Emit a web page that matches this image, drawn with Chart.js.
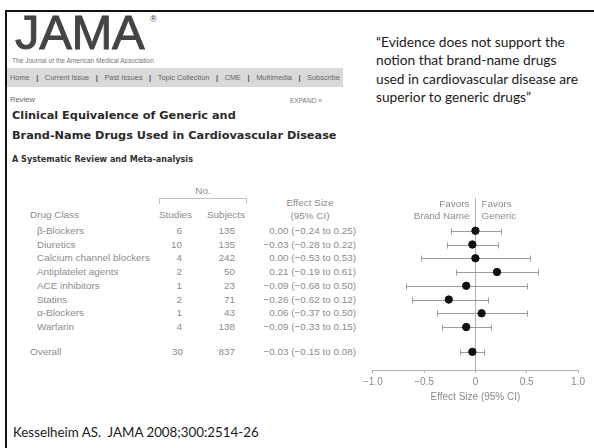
<!DOCTYPE html>
<html><head><meta charset="utf-8">
<script src="https://cdn.jsdelivr.net/npm/chart.js@4.4.1/dist/chart.umd.min.js"></script>
<style>
html,body{margin:0;padding:0;background:#fff;}
body{width:594px;height:448px;position:relative;overflow:hidden;}
.t{position:absolute;white-space:pre;}
#plot{position:absolute;left:360px;top:180px;}
#nav{position:absolute;left:7px;top:68px;width:336px;height:19px;background:#d9d9d9;display:flex;justify-content:space-between;align-items:center;padding:0 3px;box-sizing:border-box;font:7.4px "Liberation Sans",Arial,sans-serif;color:#666;}
#nav b{color:#555;font-weight:bold;}
</style></head><body>
<div style="position:absolute;left:5px;top:10px;width:589px;height:2px;background:#111"></div>
<div style="position:absolute;left:5px;top:10px;width:2px;height:438px;background:#111"></div>
<div id="nav"><span>Home</span><b>|</b><span>Current Issue</span><b>|</b><span>Past Issues</span><b>|</b><span>Topic Collection</span><b>|</b><span>CME</span><b>|</b><span>Multimedia</span><b>|</b><span>Subscribe</span></div>
<canvas id="plot" width="234" height="230"></canvas>
<script>
// ---- data ----
const drugClasses = ['β-Blockers','Diuretics','Calcium channel blockers','Antiplatelet agents','ACE inhibitors','Statins','α-Blockers','Warfarin'];
const studies = [6, 10, 4, 2, 1, 2, 1, 4];
const subjects = [135, 135, 242, 50, 23, 71, 43, 138];
const effect = [0.00, -0.03, 0.00, 0.21, -0.09, -0.26, 0.06, -0.09];
const ciLow = [-0.24, -0.28, -0.53, -0.19, -0.68, -0.62, -0.37, -0.33];
const ciHigh = [0.25, 0.22, 0.53, 0.61, 0.50, 0.12, 0.50, 0.15];
const overallLabel = 'Overall';
const overallStudies = 30;
const overallSubjects = 837;
const overallEffect = -0.03;
const overallLow = -0.15;
const overallHigh = 0.08;
const xTicks = [-1, -0.5, 0, 0.5, 1];
const xTickLabels = ['−1.0', '−0.5', '0', '0.5', '1.0'];
const quoteLines = ['“Evidence does not support the', 'notion that brand-name drugs', 'used in cardiovascular disease are', 'superior to generic drugs”'];

// ---- text helpers ----
const mctx = document.createElement('canvas').getContext('2d');
function measure(text, weight, size, family){ mctx.font = `${weight} ${size}px ${family}`; return mctx.measureText(text).width; }
function place(text, o){
  const family = o.family || '"Liberation Sans"';
  const weight = o.weight || 'normal';
  let size = o.size || 10;
  if (o.w) size = o.w / measure(text, weight, 100, family) * 100;
  const d = document.createElement('div');
  d.className = 't';
  d.textContent = text;
  d.style.font = `${weight} ${size}px ${family}`;
  d.style.lineHeight = (size*1.3) + 'px';
  d.style.color = o.color || '#888';
  d.style.left = o.x + 'px';
  d.style.top = o.y + 'px';
  const ax = o.align === 'right' ? '-100%' : (o.align === 'center' ? '-50%' : '0');
  d.style.transform = `translate(${ax},-50%)`;
  if (o.ls) d.style.letterSpacing = o.ls + 'px';
  if (o.stroke) d.style.webkitTextStroke = o.stroke;
  document.body.appendChild(d);
  return size;
}
function fitSize(text, w, weight, family){ return w / measure(text, weight, 100, family) * 100; }
const fmt = v => (v < 0 ? '−' : '') + Math.abs(v).toFixed(2);
const esText = (e, lo, hi) => `${fmt(e)} (${fmt(lo)} to ${fmt(hi)})`;

// ---- header ----
place('JAMA', {x:15, y:33, size:49, ls:-0.3, color:'#444', stroke:'0.9px #444'});
place('®', {x:150, y:20, size:9, color:'#444'});
place('The Journal of the American Medical Association', {x:12, y:61, w:143, color:'#777'});
place('Review', {x:10, y:100, w:25, color:'#666'});
place('EXPAND »', {x:290, y:101, w:32, color:'#777'});
const titleSize = fitSize('Brand-Name Drugs Used in Cardiovascular Disease', 325, 'bold', '"DejaVu Sans"');
place('Clinical Equivalence of Generic and', {x:12, y:116, size:titleSize, weight:'bold', family:'"DejaVu Sans"', color:'#2a2a2a'});
place('Brand-Name Drugs Used in Cardiovascular Disease', {x:12, y:136, size:titleSize, weight:'bold', family:'"DejaVu Sans"', color:'#2a2a2a'});
place('A Systematic Review and Meta-analysis', {x:12, y:159, w:181, weight:'bold', family:'"DejaVu Sans"', color:'#333'});

// quote & citation
const qSize = fitSize(quoteLines[0], 189, 'normal', 'Lato');
quoteLines.forEach((l, i) => place(l, {x:376, y:42 + i*18.3, size:qSize, family:'Lato', color:'#1a1a1a'}));
place('Kesselheim AS.  JAMA 2008;300:2514-26', {x:13, y:433, w:247, family:'Lato', color:'#1a1a1a'});

// ---- forest plot ----
const overallPos = drugClasses.length + 0.8;
const whiskers = {
  id: 'whiskers',
  beforeDatasetsDraw(chart){
    const {ctx, scales:{x, y}} = chart;
    ctx.save();
    ctx.strokeStyle = '#9c9c9c';
    ctx.lineWidth = 1;
    const rows = ciLow.map((lo, i) => [lo, ciHigh[i], i]).concat([[overallLow, overallHigh, overallPos]]);
    rows.forEach(([lo, hi, pos]) => {
      const py = Math.round(y.getPixelForValue(pos)) + 0.5;
      const x1 = Math.round(x.getPixelForValue(lo)) + 0.5, x2 = Math.round(x.getPixelForValue(hi)) + 0.5;
      ctx.beginPath();
      ctx.moveTo(x1, py); ctx.lineTo(x2, py);
      ctx.moveTo(x1, py - 3); ctx.lineTo(x1, py + 3);
      ctx.moveTo(x2, py - 3); ctx.lineTo(x2, py + 3);
      ctx.stroke();
    });
    ctx.restore();
  }
};
const axisColor = '#b4b4b4';
const chart = new Chart(document.getElementById('plot'), {
  type: 'scatter',
  data: {
    datasets: [
      {data: effect.map((e, i) => ({x: e, y: i})), backgroundColor:'#111', borderColor:'#111', pointRadius:3.7, pointHoverRadius:3.7},
      {data: [{x: overallEffect, y: overallPos}], backgroundColor:'#111', borderColor:'#111', pointRadius:3.7, pointHoverRadius:3.7}
    ]
  },
  options: {
    responsive:false, animation:false, devicePixelRatio:1,
    layout:{padding:{left:10, right:16, top:18, bottom:0}},
    plugins:{legend:{display:false}, tooltip:{enabled:false}},
    scales:{
      x:{
        type:'linear', min:-1, max:1,
        afterBuildTicks: s => { s.ticks = xTicks.map(v => ({value:v})); },
        ticks:{callback:(v, i) => xTickLabels[i], color:'#8a8a8a', font:{family:'"Liberation Sans"', size:10}, padding:3, maxRotation:0, autoSkip:false},
        grid:{color: c => (c.tick && c.tick.value === 0) ? axisColor : 'rgba(0,0,0,0)', tickColor:axisColor, tickLength:3, drawOnChartArea:true},
        border:{display:true, color:axisColor},
        title:{display:true, text:'Effect Size (95% CI)', color:'#8a8a8a', font:{family:'"Liberation Sans"', size:10}, padding:{top:4, bottom:7}},
        afterFit: s => { s.height = 40; }
      },
      y:{type:'linear', display:false, reverse:true, min:-2.38, max:10.12}
    }
  },
  plugins:[whiskers]
});

// ---- table aligned to the plot rows ----
const top0 = 180, left0 = 360;
const rowPx = i => top0 + chart.scales.y.getPixelForValue(i);
const zeroX = left0 + chart.scales.x.getPixelForValue(0);
const tSize = fitSize('Calcium channel blockers', 113, 'normal', '"Liberation Sans"');
const gray = '#8c8c8c';
drugClasses.forEach((c, i) => {
  const y = rowPx(i);
  place(c, {x:37, y, size:tSize, color:gray});
  place(String(studies[i]), {x:182, y, size:tSize, color:gray, align:'right'});
  place(String(subjects[i]), {x:235, y, size:tSize, color:gray, align:'right'});
  place(esText(effect[i], ciLow[i], ciHigh[i]), {x:356, y, size:tSize, color:gray, align:'right'});
});
const oy = rowPx(overallPos);
place(overallLabel, {x:30, y:oy, size:tSize, color:gray});
place(String(overallStudies), {x:183, y:oy, size:tSize, color:gray, align:'right'});
place(String(overallSubjects), {x:235, y:oy, size:tSize, color:gray, align:'right'});
place(esText(overallEffect, overallLow, overallHigh), {x:356, y:oy, size:tSize, color:gray, align:'right'});

// table header
place('No.', {x:203, y:191, size:tSize, color:gray, align:'center'});
place('Drug Class', {x:30, y:215, size:tSize, color:gray});
place('Studies', {x:159, y:215, size:tSize, color:gray});
place('Subjects', {x:207, y:215, size:tSize, color:gray});
place('Effect Size', {x:310, y:203, size:tSize, color:gray, align:'center'});
place('(95% CI)', {x:310, y:216, size:tSize, color:gray, align:'center'});
const br = document.createElement('div');
br.style.cssText = 'position:absolute;left:159px;top:198px;width:88px;height:6px;border:1px solid #c4c4c4;border-bottom:none;box-sizing:border-box;';
document.body.appendChild(br);

// plot header
place('Favors', {x:zeroX - 6, y:204, size:tSize, color:gray, align:'right'});
place('Brand Name', {x:zeroX - 6, y:216, size:tSize, color:gray, align:'right'});
place('Favors', {x:zeroX + 6, y:204, size:tSize, color:gray});
place('Generic', {x:zeroX + 6, y:216, size:tSize, color:gray});
</script>
</body></html>
